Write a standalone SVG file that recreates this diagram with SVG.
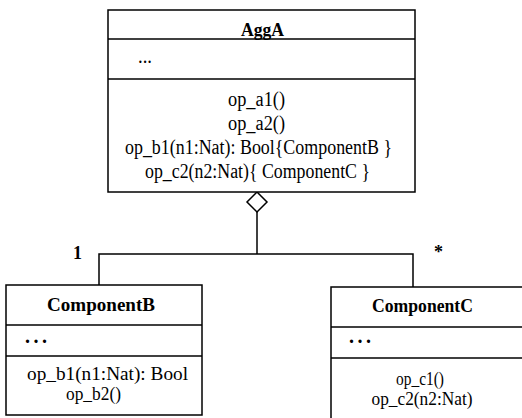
<svg xmlns="http://www.w3.org/2000/svg" width="522" height="418" viewBox="0 0 522 418">
<style>
.box{fill:#fff;stroke:#000;stroke-width:1.5}
.ln{fill:none;stroke:#000;stroke-width:1.5}
text{font-family:"Liberation Serif","Times New Roman",serif;fill:#000}
.t{font-size:18px;font-weight:bold}
.op{font-size:20px}
.cop{font-size:18px}
.m{font-size:18px;font-weight:bold}
</style>
<rect width="522" height="418" fill="#fff"/>
<g id="connectors">
<polyline class="ln" points="257,212 257,254"/>
<polyline class="ln" points="99,285 99,254 413,254 413,287"/>
<polygon class="ln" points="257,192 267,202 257,212 247,202" style="fill:#fff"/>
<text class="m" x="73" y="259">1</text>
<text class="m" x="434" y="258">*</text>
</g>
<g id="AggA">
<rect class="box" x="108" y="10" width="307" height="182"/>
<line class="ln" x1="108" y1="39" x2="415" y2="39"/>
<line class="ln" x1="108" y1="79" x2="415" y2="79"/>
<text class="t" x="241" y="36" textLength="43" lengthAdjust="spacingAndGlyphs">AggA</text>
<text class="op" x="138" y="63" textLength="14" lengthAdjust="spacingAndGlyphs">...</text>
<text class="op" x="228" y="106" textLength="57" lengthAdjust="spacingAndGlyphs">op_a1()</text>
<text class="op" x="228" y="130" textLength="57" lengthAdjust="spacingAndGlyphs">op_a2()</text>
<text class="op" x="125" y="154" textLength="267" lengthAdjust="spacingAndGlyphs">op_b1(n1:Nat): Bool{ComponentB }</text>
<text class="op" x="145" y="178" textLength="225" lengthAdjust="spacingAndGlyphs">op_c2(n2:Nat){ ComponentC }</text>
</g>
<g id="ComponentB">
<rect class="box" x="6" y="285" width="196" height="130"/>
<line class="ln" x1="6" y1="325" x2="202" y2="325"/>
<line class="ln" x1="6" y1="356" x2="202" y2="356"/>
<text class="t" x="47" y="311" textLength="108" lengthAdjust="spacingAndGlyphs">ComponentB</text>
<text class="op" x="25" y="343" textLength="22" lengthAdjust="spacing" font-weight="bold">...</text>
<text class="cop" x="27" y="380" textLength="161" lengthAdjust="spacingAndGlyphs">op_b1(n1:Nat): Bool</text>
<text class="cop" x="66" y="400" textLength="55" lengthAdjust="spacingAndGlyphs">op_b2()</text>
</g>
<g id="ComponentC">
<rect class="box" x="331" y="287" width="200" height="150"/>
<line class="ln" x1="331" y1="327" x2="531" y2="327"/>
<line class="ln" x1="331" y1="358" x2="531" y2="358"/>
<text class="t" x="372" y="312" textLength="101" lengthAdjust="spacingAndGlyphs">ComponentC</text>
<text class="op" x="349" y="343" textLength="22" lengthAdjust="spacing" font-weight="bold">...</text>
<text class="cop" x="420" y="385" text-anchor="middle" textLength="48" lengthAdjust="spacingAndGlyphs">op_c1()</text>
<text class="cop" x="422" y="405" text-anchor="middle" textLength="101" lengthAdjust="spacingAndGlyphs">op_c2(n2:Nat)</text>
</g>
</svg>
